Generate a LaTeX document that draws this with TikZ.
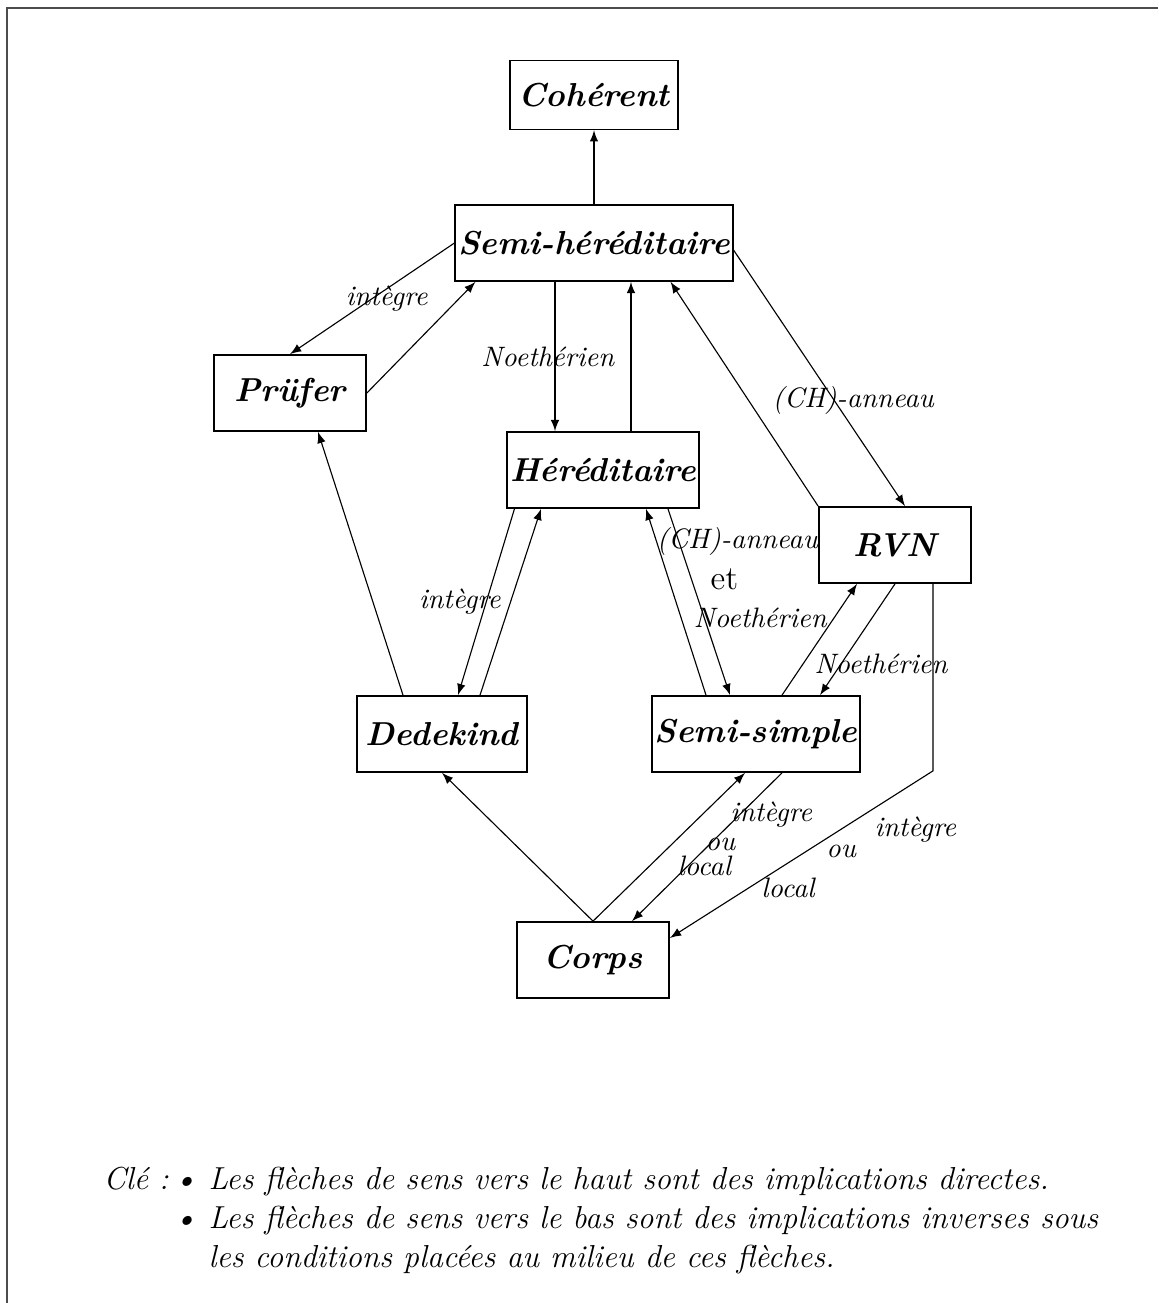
\documentclass[tikz,border=0pt]{standalone}
\usetikzlibrary{calc}
\begin{document}
\begin{tikzpicture}[x=0.0125cm,y=-0.0125cm,
  boite/.style={draw,line width=0.6pt,minimum width=1.9cm,minimum height=0.95cm,inner xsep=1pt,font=\fontsize{11.8}{14}\selectfont\bfseries\itshape},
  fleche/.style={-latex,line width=0.4pt},
  cond/.style={font=\fontsize{10}{12.5}\selectfont\itshape,inner sep=1pt}]
\useasboundingbox (0,0) rectangle (1158,1303);
\draw[line width=0.8pt,black!70] (7,1303) -- (7,8) -- (1158,8);

\node[boite,minimum width=2.1cm,minimum height=0.86cm] (coherent) at (594,95) {Cohérent};
\node[boite] (semiher) at (594,243) {Semi-héréditaire};
\node[boite] (prufer) at (290,393) {Prüfer};
\node[boite,minimum width=2.36cm] (hered) at (603,470) {Héréditaire};
\node[boite] (rvn) at (895,545) {RVN};
\node[boite,minimum width=2.12cm] (dedekind) at (442,734) {Dedekind};
\node[boite,minimum width=2.58cm] (semisimple) at (756,734) {Semi-simple};
\node[boite] (corps) at (593,960) {Corps};
\coordinate (coude) at ($(rvn.south)+(38,187)$);

\draw[fleche] (semiher) -- (coherent);
\draw[fleche] (semiher.west) -- node[cond,xshift=0.18cm]{intègre} (prufer.north);
\draw[fleche] (prufer.east) -- ($(semiher.south west)+(21,0)$);
\draw[fleche] ($(semiher.south)+(-39,0)$) -- node[cond,xshift=-0.09cm]{Noethérien} ($(semiher.south |- hered.north)+(-39,0)$);
\draw[fleche] ($(semiher.south |- hered.north)+(37,0)$) -- ($(semiher.south)+(37,0)$);
\draw[fleche] ($(semiher.east)+(0,7)$) -- node[cond,pos=.586,xshift=0.24cm]{(CH)-anneau} ($(rvn.north)+(10,0)$);
\draw[fleche] (rvn.north west) -- ($(semiher.south east)+(-63,0)$);
\draw[fleche] ($(hered.south west)+(8,0)$) -- node[cond,xshift=-0.33cm]{intègre} ($(dedekind.north)+(16,0)$);
\draw[fleche] ($(dedekind.north)+(38,0)$) -- ($(hered.south)+(-62,0)$);
\draw[fleche] ($(dedekind.north)+(-39,0)$) -- ($(prufer.south)+(28,0)$);
\draw[fleche] ($(semisimple.north)+(-50,0)$) -- ($(hered.south)+(43,0)$);
\draw[fleche] ($(hered.south)+(65,0)$) -- node[cond,pos=.176,xshift=0.73cm]{(CH)-anneau} node[cond,pos=.38,xshift=0.41cm,font=\fontsize{12}{14}\selectfont]{et} node[cond,pos=.585,xshift=0.7cm]{Noethérien} ($(semisimple.north)+(-26,0)$);
\draw[fleche] ($(semisimple.north)+(26,0)$) -- ($(rvn.south)+(-38,0)$);
\draw[fleche] (rvn.south) -- node[cond,pos=.72,xshift=0.5cm]{Noethérien} ($(semisimple.north)+(64,0)$);
\draw[fleche] (corps.north) -- (dedekind.south);
\draw[fleche] (corps.north) -- ($(semisimple.south)+(-11,0)$);
\draw[fleche] ($(semisimple.south)+(26,0)$) -- node[cond,pos=.28,xshift=0.39cm]{intègre} node[cond,pos=.48,xshift=0.13cm]{ou} node[cond,pos=.63,xshift=0.21cm]{local} ($(corps.north)+(39,0)$);
\draw[fleche] ($(rvn.south)+(38,0)$) -- (coude) -- node[cond,pos=.35,xshift=0.93cm]{intègre} node[cond,pos=.48,xshift=0.43cm]{ou} node[cond,pos=.70,xshift=0.49cm]{local} ($(corps.east)+(0,-22)$);

\node[anchor=north west,font=\fontsize{11.3}{13.8}\selectfont\itshape,inner sep=0pt] (cle) at (103,1167) {Clé :};
\node[anchor=north west,font=\fontsize{11.3}{13.8}\selectfont\itshape,align=left,inner sep=0pt] (legende) at (208,1167)
  {\llap{\textbullet\hspace{4pt}}Les flèches de sens vers le haut sont des implications directes.\\
   \llap{\textbullet\hspace{4pt}}Les flèches de sens vers le bas sont des implications inverses sous\\
   les conditions placées au milieu de ces flèches.};
\end{tikzpicture}
\end{document}
